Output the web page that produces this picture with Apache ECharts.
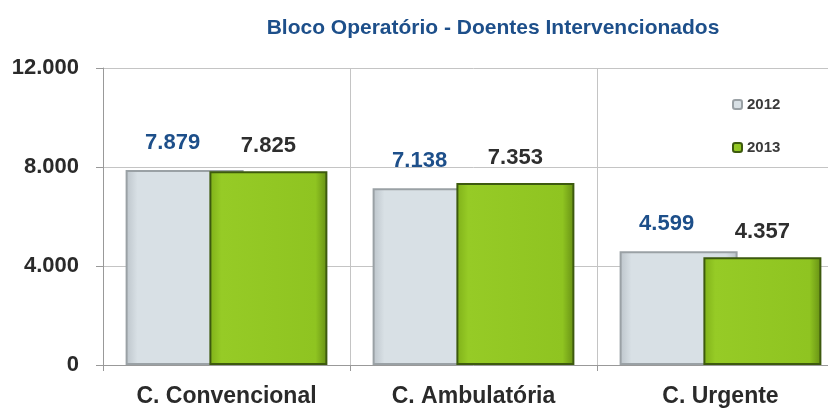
<!DOCTYPE html>
<html>
<head>
<meta charset="utf-8">
<script src="https://cdn.jsdelivr.net/npm/echarts@6/dist/echarts.min.js"></script>
<style>
  html, body { margin: 0; padding: 0; background: #fff; overflow: hidden; }
  #chart { width: 844px; height: 412px; }
</style>
</head>
<body>
<div id="chart"></div>
<script>
var categories = ['C. Convencional', 'C. Ambulatória', 'C. Urgente'];
var years = ['2012', '2013'];
var values2012 = [7879, 7138, 4599];
var values2013 = [7825, 7353, 4357];

var font = '"Liberation Sans", Arial, sans-serif';

function fmt(v) {
    return String(v).replace(/\B(?=(\d{3})+(?!\d))/g, '.');
}

// the plot runs past the right edge of the window, as in the original
var chart = echarts.init(document.getElementById('chart'));

var option = {
    backgroundColor: '#fff',
    animation: false,
    title: {
        text: 'Bloco Operatório - Doentes Intervencionados',
        left: 488,
        textAlign: 'center',
        top: 13,
        textStyle: { color: '#1d4f8a', fontSize: 21, fontWeight: 'bold', fontFamily: font }
    },
    legend: {
        data: years,
        orient: 'vertical',
        left: 726,
        top: 93,
        itemWidth: 9,
        itemHeight: 9,
        itemGap: 28,
        padding: [4, 6],
        backgroundColor: '#fff',
        textStyle: { color: '#3a3a3a', fontSize: 15, fontWeight: 'bold', fontFamily: font }
    },
    grid: { left: 103, right: 0, top: 68, bottom: 47 },
    xAxis: {
        type: 'category',
        data: categories,
        axisLine: { lineStyle: { color: '#999' } },
        axisTick: { show: true, length: 6, lineStyle: { color: '#999' } },
        splitLine: { show: true, lineStyle: { color: '#c4c4c4' } },
        axisLabel: { color: '#2a2a2a', fontSize: 23, fontWeight: 'bold', fontFamily: font, margin: 20 }
    },
    yAxis: {
        type: 'value',
        min: 0,
        max: 12000,
        interval: 4000,
        axisLine: { show: true, lineStyle: { color: '#999' } },
        axisTick: { show: true, length: 7, lineStyle: { color: '#999' } },
        splitLine: { lineStyle: { color: '#c4c4c4' } },
        axisLabel: {
            color: '#2a2a2a', fontSize: 22, fontWeight: 'bold', fontFamily: font, margin: 24,
            formatter: function (v) { return fmt(v); }
        }
    },
    series: [
        {
            name: years[0],
            type: 'bar',
            data: values2012,
            barWidth: 118,
            barGap: '-29%',
            itemStyle: {
                color: new echarts.graphic.LinearGradient(0, 0, 1, 0, [
                    { offset: 0, color: '#bcc4ca' },
                    { offset: 0.1, color: '#d8e0e5' },
                    { offset: 0.9, color: '#d8e0e5' },
                    { offset: 1, color: '#bcc4ca' }
                ]),
                borderColor: '#9aa1a5',
                borderWidth: 2
            },
            label: {
                show: true,
                position: 'top',
                distance: 16,
                offset: [-12, 0],
                color: '#1d4f8a',
                fontSize: 22,
                fontWeight: 'bold',
                fontFamily: font,
                formatter: function (p) { return fmt(p.value); }
            }
        },
        {
            name: years[1],
            type: 'bar',
            data: values2013,
            barWidth: 118,
            itemStyle: {
                color: new echarts.graphic.LinearGradient(0, 0, 1, 0, [
                    { offset: 0, color: '#7fb019' },
                    { offset: 0.1, color: '#96cb26' },
                    { offset: 0.9, color: '#8fc421' },
                    { offset: 1, color: '#668f14' }
                ]),
                borderColor: '#3d5a0e',
                borderWidth: 2
            },
            label: {
                show: true,
                position: 'top',
                distance: 14,
                color: '#2e2e2e',
                fontSize: 22,
                fontWeight: 'bold',
                fontFamily: font,
                formatter: function (p) { return fmt(p.value); }
            }
        }
    ]
};

chart.setOption(option);
</script>
</body>
</html>
